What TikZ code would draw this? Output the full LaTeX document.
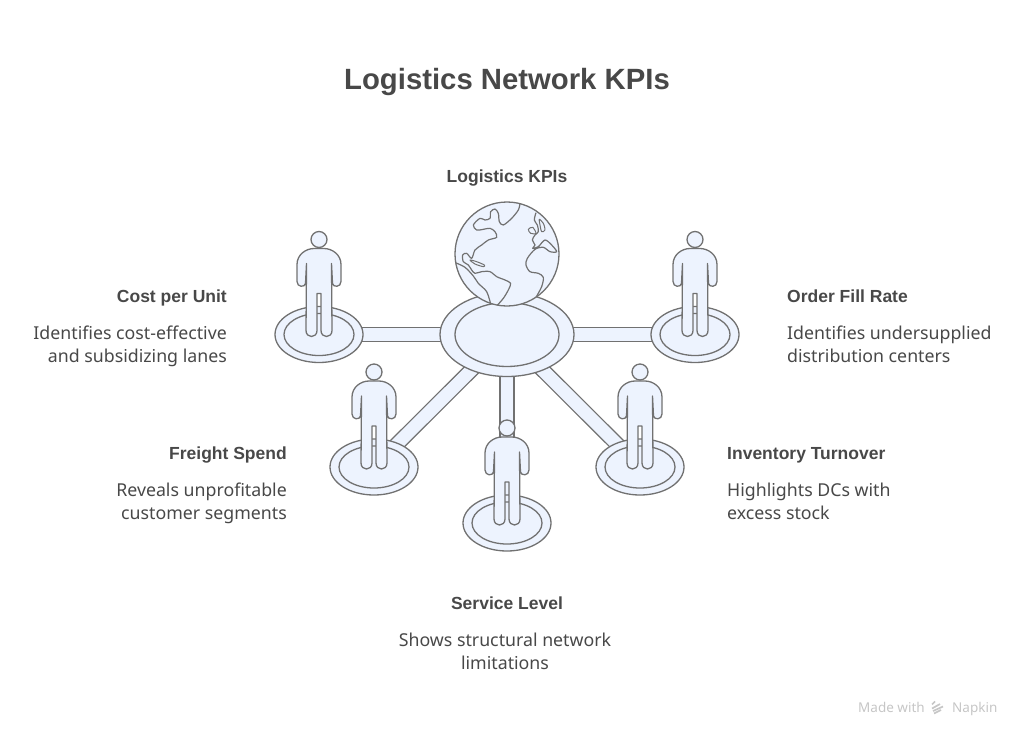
\documentclass[tikz,border=0pt]{standalone}
\usepackage{fontspec}
\setmainfont{Noto Sans}
\newfontfamily\headfont{Liberation Sans}
\usetikzlibrary{shapes.geometric,backgrounds}
\definecolor{kpiline}{HTML}{717171}
\definecolor{kpifill}{HTML}{EDF3FE}
\definecolor{kpitext}{HTML}{484848}
\definecolor{kpifoot}{HTML}{C6C6C6}
\tikzset{
    outline/.style={draw=kpiline,line width=1.3pt,line join=round},
    solid shape/.style={outline,fill=kpifill},
    disc/.style={solid shape,ellipse,inner sep=0pt,outer sep=0pt,minimum width=#1},
    spoke/.style={kpiline,line width=1.3pt,double=kpifill,double distance=12.8pt,shorten <=-8pt,shorten >=-8pt},
    heading/.style={text=kpitext,inner sep=0pt,font=\headfont\fontsize{17.5}{22}\selectfont\bfseries},
    blurb/.style={text=kpitext,inner sep=0pt,font=\fontsize{17.75}{22.6}\selectfont},
    kpiperson/.pic={
        \draw[solid shape] (0,0) circle[radius=8];
        \draw[solid shape]
            (-2,54) -- (-2,91) .. controls (-2,99) and (-13,99) .. (-13,91)
            -- (-12.5,24) -- (-13.5,44) .. controls (-14,48) and (-22,48) .. (-22,42)
            -- (-22,25) .. controls (-22,15) and (-13,9) .. (-5,9)
            -- (5,9) .. controls (13,9) and (22,15) .. (22,25)
            -- (22,42) .. controls (22,48) and (14,48) .. (13.5,44)
            -- (12.5,24) -- (13,91) .. controls (13,99) and (2,99) .. (2,91)
            -- (2,54) -- cycle;
    }
}
\begin{document}
\begin{tikzpicture}[x=1pt,y=-1pt]
    \useasboundingbox (0,0) rectangle (1024,742);
    \node[text=kpitext,inner sep=0pt,anchor=base,font=\headfont\fontsize{29.3}{34}\selectfont\bfseries] (title) at (507,89) {Logistics Network KPIs};

    % hub and globe
    \node[disc=134pt,minimum height=84pt] (hub) at (507,334.5) {};
    \node[disc=104pt,minimum height=64pt] (hubin) at (507,334.5) {};
    \node[solid shape,circle,inner sep=0pt,outer sep=0pt,minimum size=104pt] (globe) at (507,254) {};
    \begin{scope}[shift={(440,190)},x=0.3333pt,y=-0.3333pt]
        \clip (201,192) circle[radius=156];
        \draw[outline,line width=1.2pt] plot[smooth] coordinates {
            (240,40) (235,60) (215,85) (190,105) (178,95) (175,70) (165,57) (152,65) (150,85)
            (135,90) (120,85) (100,105) (110,120) (130,118) (150,115) (165,125) (170,142)
            (145,150) (125,165) (105,180) (95,205) (80,190) (68,195) (70,215) (85,225) (95,240)
            (105,250) (125,245) (150,245) (170,260) (195,270) (212,280) (205,300) (190,325) (170,348)};
        \draw[outline,line width=1.2pt] plot[smooth] coordinates {
            (46,218) (75,232) (100,258) (115,280) (140,305) (152,342)};
        \draw[outline,line width=1pt] plot[smooth cycle] coordinates {
            (90,210) (110,215) (133,225) (130,230) (105,222)};
        \draw[outline,line width=1.2pt] plot[smooth] coordinates {
            (288,68) (283,90) (292,105) (295,125) (285,135) (277,150) (285,165) (278,175)
            (295,170) (315,150) (335,165) (350,185) (330,185) (310,172) (285,178) (262,205)
            (258,225) (270,245) (295,250) (310,262) (305,290) (288,322)};
        \draw[outline,line width=1pt] plot[smooth cycle] coordinates {
            (298,88) (310,100) (315,120) (305,125) (300,105)};
        \draw[outline,line width=1pt] plot[smooth cycle] coordinates {
            (265,118) (278,112) (288,130) (272,130)};
    \end{scope}

    % platforms with a person on each
    \foreach \name/\px/\py in {cost/319/334.5,fill/695/334.5,freight/374/467,stock/640/467,service/507/523} {
        \node[disc=88pt,minimum height=56pt] (\name) at (\px,\py) {};
        \node[disc=70pt,minimum height=42pt] (\name in) at (\px,\py) {};
        \pic at (\px,\py-95) {kpiperson};
    }

    \begin{scope}[on background layer]
        \foreach \name in {cost,fill,freight,stock,service} {
            \draw[spoke] (hub) -- (\name);
        }
    \end{scope}

    % labels
    \node[heading,anchor=base east] (costhead) at (227,302) {Cost per Unit};
    \node[blurb,align=right,anchor=east] (costtext) at (227,346.5) {\strut Identifies cost-effective\\and subsidizing lanes\strut};
    \node[heading,anchor=base west] (fillhead) at (787,302) {Order Fill Rate};
    \node[blurb,align=left,anchor=west] (filltext) at (787,346.5) {\strut Identifies undersupplied\\distribution centers\strut};
    \node[heading,anchor=base east] (freighthead) at (287,459) {Freight Spend};
    \node[blurb,align=right,anchor=east] (freighttext) at (287,503.5) {\strut Reveals unprofitable\\customer segments\strut};
    \node[heading,anchor=base west] (stockhead) at (727,459) {Inventory Turnover};
    \node[blurb,align=left,anchor=west] (stocktext) at (727,503.5) {\strut Highlights DCs with\\excess stock\strut};
    \node[heading,anchor=base] (servicehead) at (507,609) {Service Level};
    \node[blurb,align=center] (servicetext) at (505,653.5) {\strut Shows structural network\\limitations\strut};
    \node[heading,anchor=base] (hubhead) at (507,182) {Logistics KPIs};

    % footer
    \node[text=kpifoot,inner sep=0pt,font=\fontsize{13.5}{16}\selectfont,anchor=base west] (made) at (858,712) {Made with};
    \node[text=kpifoot,inner sep=0pt,font=\fontsize{13.5}{16}\selectfont,anchor=base west] (napkin) at (952,712) {Napkin};
    \draw[kpifoot,line width=1.7pt]
        (932,704.5) -- (935,701.5)
        (932,708.5) -- (940,704)
        (933,711) -- (943,706.5)
        (934,713.5) -- (941,710);
\end{tikzpicture}
\end{document}
